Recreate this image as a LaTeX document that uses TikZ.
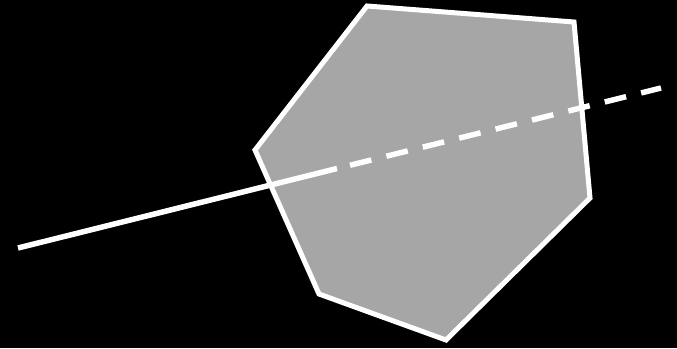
\documentclass[tikz,border=0pt]{standalone}
\begin{document}
\begin{tikzpicture}[x=1pt,y=-1pt,
  edge/.style={draw=white,line width=5pt,line join=miter},
  ray/.style={draw=white,line width=5.5pt}]
\useasboundingbox (0,0) rectangle (677,348);
\fill[black] (0,0) rectangle (677,348);
\coordinate (p1) at (367,6);
\coordinate (p2) at (574,22);
\coordinate (p3) at (590,198);
\coordinate (p4) at (446,340);
\coordinate (p5) at (319,294);
\coordinate (p6) at (255,150);
\path[edge,fill={rgb,255:red,166;green,166;blue,166}] (p1) -- (p2) -- (p3) -- (p4) -- (p5) -- (p6) -- cycle;
\coordinate (a) at (18,248);
\coordinate (m) at (337,168.5);
\coordinate (b) at (661,88);
\draw[ray] (a) -- (m);
\draw[ray,dash pattern=on 22pt off 15.5pt,dash phase=24.1pt] (m) -- (b);
\end{tikzpicture}
\end{document}
